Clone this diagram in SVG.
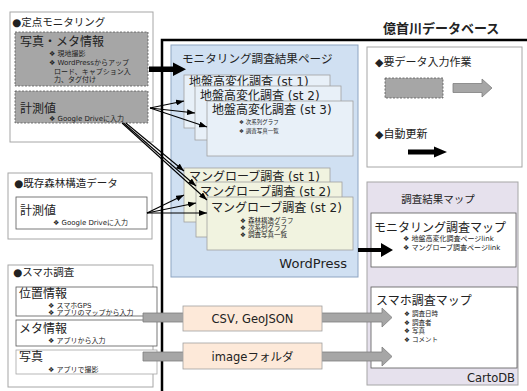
<svg xmlns="http://www.w3.org/2000/svg" width="527" height="391" viewBox="0 0 527 391">
<defs>
<marker id="ah" viewBox="0 0 8 6" refX="8" refY="3" markerWidth="8" markerHeight="6" markerUnits="userSpaceOnUse" orient="auto">
<path d="M0,0 L8,3 L0,6 z" fill="#000"/>
</marker>
<style>
text { font-family: "DejaVu Sans", "Noto Sans CJK JP", sans-serif; fill: #222; }
.panel { fill: none; stroke: #a6a6a6; stroke-width: 1; }
.gbox { fill: #a6a6a6; stroke: #595959; stroke-width: 0.8; stroke-dasharray: 2 1.5; }
.wbox { fill: #fff; stroke: #595959; stroke-width: 0.8; }
.wbox2 { fill: #fff; stroke: #a6a6a6; stroke-width: 0.8; }
.cardj { fill: #e8f0f8; stroke: #a0a0a0; stroke-width: 0.8; }
.cardm { fill: #f1f3e0; stroke: #a0a0a0; stroke-width: 0.8; }
.fmt { fill: #fde9d9; stroke: #a0a0a0; stroke-width: 0.8; }
.h1 { font-size: 12px; }
.h2 { font-size: 10.5px; }
.b { font-size: 7px; }
.thin { stroke: #000; stroke-width: 1.1; fill: none; marker-end: url(#ah); }
.fat { fill: #000; }
.garr { fill: #a6a6a6; stroke: #7f7f7f; stroke-width: 0.8; }
</style>
</defs>

<g id="database-frame">
<path d="M162,391 V40 H527" fill="none" stroke="#000" stroke-width="2.5"/>
<text x="383" y="33" font-size="13" font-weight="bold">億首川データベース</text>
</g>

<g id="wordpress">
<rect x="171" y="45" width="187" height="232" fill="#d0e0f2" stroke="#8ea5c2" stroke-width="1"/>
<text x="182" y="63" font-size="11.6">モニタリング調査結果ページ</text>
<text x="347" y="268" font-size="13" text-anchor="end">WordPress</text>
</g>

<g id="jiban-st1">
<rect class="cardj" x="184" y="75" width="146" height="53"/>
<text class="h1" x="189" y="85.5">地盤高変化調査 (st 1)</text>
</g>
<g id="jiban-st2">
<rect class="cardj" x="195" y="86" width="146" height="54"/>
<text class="h1" x="200" y="99.5">地盤高変化調査 (st 2)</text>
</g>
<g id="jiban-st3">
<rect class="cardj" x="207" y="101" width="146" height="55"/>
<text class="h1" x="212" y="114">地盤高変化調査 (st 3)</text>
<text x="239" y="123.5" font-size="5.5">❖ 次系列グラフ</text>
<text x="239" y="133" font-size="5.5">❖ 調査写真一覧</text>
</g>

<g id="mangrove-st1">
<rect class="cardm" x="184" y="168" width="146" height="54"/>
<text class="h1" x="189" y="181">マングローブ調査 (st 1)</text>
</g>
<g id="mangrove-st2a">
<rect class="cardm" x="196" y="182" width="146" height="55"/>
<text class="h1" x="200" y="195.5">マングローブ調査 (st 2)</text>
</g>
<g id="mangrove-st2b">
<rect class="cardm" x="207" y="197" width="146" height="53"/>
<text class="h1" x="211" y="212">マングローブ調査 (st 2)</text>
<text x="240" y="223" font-size="6.5">❖ 森林構造グラフ</text>
<text x="240" y="230" font-size="6.5">❖ 次系列グラフ</text>
<text x="240" y="237" font-size="6.5">❖ 調査写真一覧</text>
</g>

<g id="legend">
<rect x="367" y="47" width="155" height="120" fill="#fff" stroke="#a6a6a6"/>
<text x="375" y="66" font-size="11">◆要データ入力作業</text>
<rect class="gbox" x="385" y="78" width="58" height="20"/>
<polygon class="garr" points="453,83.5 482,83.5 482,79 492,88 482,97 482,92.5 453,92.5"/>
<text x="375" y="138" font-size="11">◆自動更新</text>
<polygon class="fat" points="408,149.5 434,149.5 434,146.5 447,152 434,157.5 434,154.5 408,154.5"/>
</g>

<g id="map-container">
<rect x="367" y="182" width="151" height="203" fill="#e6e1ed" stroke="#a6a6a6"/>
<text x="438" y="203" font-size="10.5" text-anchor="middle">調査結果マップ</text>
<text x="515" y="382" font-size="11.5" text-anchor="end">CartoDB</text>
</g>
<g id="monitoring-map">
<rect class="wbox" x="371" y="213" width="145" height="54"/>
<text class="h1" x="374" y="232">モニタリング調査マップ</text>
<text class="b" x="403" y="241">❖ 地盤高変化調査ページlink</text>
<text class="b" x="403" y="249.5">❖ マングローブ調査ページlink</text>
</g>
<g id="smartphone-map">
<rect class="wbox" x="371" y="287" width="146" height="81"/>
<text class="h1" x="376" y="305">スマホ調査マップ</text>
<text x="404" y="316" font-size="6.5">❖ 調査日時</text>
<text x="404" y="324.5" font-size="6.5">❖ 調査者</text>
<text x="404" y="333" font-size="6.5">❖ 写真</text>
<text x="404" y="341.5" font-size="6.5">❖ コメント</text>
</g>

<g id="teiten-monitoring">
<rect class="panel" x="10" y="12" width="143" height="130"/>
<text class="h2" x="12" y="26">●定点モニタリング</text>
<g id="photo-meta">
<rect class="gbox" x="15" y="32" width="133" height="54"/>
<text class="h1" x="20" y="46" font-size="12.5">写真・メタ情報</text>
<text class="b" x="49" y="56">❖ 現地撮影</text>
<text class="b" x="49" y="65">❖ WordPressからアップ</text>
<text class="b" x="54" y="73.5">ロード、キャプション入</text>
<text class="b" x="54" y="82">力、タグ付け</text>
</g>
<g id="keisoku-1">
<rect class="gbox" x="15" y="91" width="133" height="32"/>
<text class="h1" x="20" y="113" font-size="12.5">計測値</text>
<text class="b" x="49" y="120.5">❖ Google Driveに入力</text>
</g>
</g>

<g id="kison-shinrin">
<rect class="panel" x="8" y="173" width="144" height="66"/>
<text class="h2" x="14" y="187">●既存森林構造データ</text>
<g id="keisoku-2">
<rect class="wbox" x="16" y="197" width="131" height="32"/>
<text class="h1" x="20" y="215" font-size="12.5">計測値</text>
<text class="b" x="53" y="225">❖ Google Driveに入力</text>
</g>
</g>

<g id="sumaho">
<rect class="panel" x="8" y="265" width="145" height="122"/>
<text class="h2" x="13" y="276">●スマホ調査</text>
<g id="ichi">
<rect class="wbox" x="16" y="287" width="141" height="29"/>
<text class="h1" x="19" y="298">位置情報</text>
<text class="b" x="48" y="307.5">❖ スマホGPS</text>
<text class="b" x="48" y="315">❖ アプリのマップから入力</text>
</g>
<g id="meta">
<rect class="wbox" x="16" y="320" width="141" height="26"/>
<text class="h1" x="19" y="333">メタ情報</text>
<text class="b" x="48" y="343">❖ アプリから入力</text>
</g>
<g id="shashin">
<rect class="wbox2" x="16" y="350" width="141" height="24"/>
<text class="h1" x="19" y="361">写真</text>
<text class="b" x="48" y="371.5">❖ アプリで撮影</text>
</g>
</g>

<g id="connectors">
<polygon class="fat" points="149,66.5 173,66.5 173,62.5 186,69.25 173,76 173,72 149,72"/>
<line class="thin" x1="150" y1="108" x2="184" y2="101"/>
<line class="thin" x1="150" y1="108" x2="195" y2="113"/>
<line class="thin" x1="150" y1="108" x2="207" y2="127"/>
<line class="thin" x1="125.8" y1="123" x2="184" y2="171"/>
<line class="thin" x1="123.5" y1="123" x2="196" y2="186"/>
<line class="thin" x1="122" y1="123" x2="207" y2="200"/>
<line class="thin" x1="147" y1="213" x2="184" y2="195"/>
<line class="thin" x1="147" y1="213" x2="196" y2="203"/>
<line class="thin" x1="147" y1="213" x2="207" y2="213"/>
<polygon class="fat" points="358,248 381,248 381,243 393,250 381,257 381,252 358,252"/>
<polygon class="garr" points="143,313 382,313 382,308 392,317.5 382,327 382,322 143,322"/>
<polygon class="garr" points="143,352 382,352 382,347 392,356.5 382,366 382,361 143,361"/>
</g>

<g id="csv-geojson">
<rect class="fmt" x="183" y="306" width="139" height="25"/>
<text x="252.5" y="322.5" font-size="11.5" text-anchor="middle">CSV, GeoJSON</text>
</g>
<g id="image-folder">
<rect class="fmt" x="183" y="343" width="139" height="26"/>
<text x="252.5" y="360.5" font-size="11.5" text-anchor="middle">imageフォルダ</text>
</g>
</svg>
